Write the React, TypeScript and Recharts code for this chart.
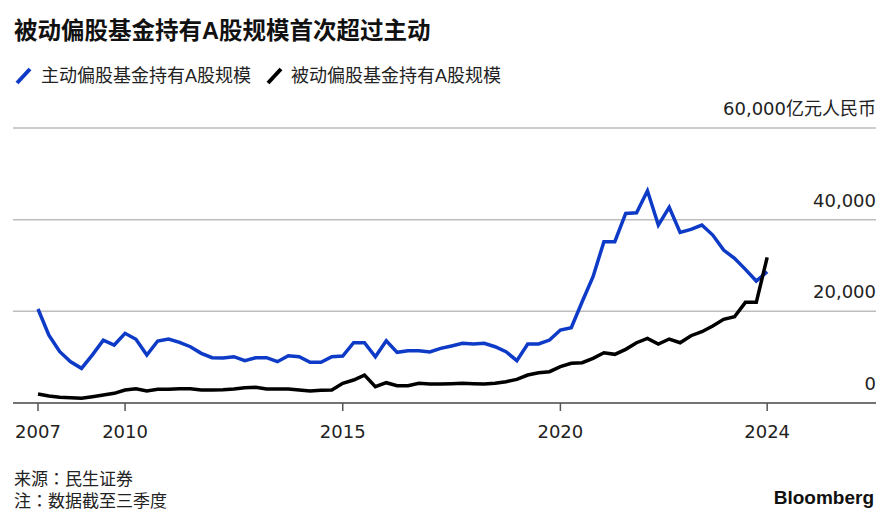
import { LineChart, Line, XAxis, YAxis, CartesianGrid } from 'recharts'

// quarterly periods, 2007Q4 .. 2024Q3
const periods: string[] = []
for (let y = 2007; y <= 2024; y++) {
  for (let q = 1; q <= 4; q++) {
    if ((y === 2007 && q < 4) || (y === 2024 && q > 3)) continue
    periods.push(`${y}Q${q}`)
  }
}

// 主动偏股基金持有A股规模 (亿元)
const activeFunds = [
  20500, 14800, 11200, 9000, 7560, 10500, 13700, 12650, 15200, 13900,
  10470, 13520, 13960, 13240, 12280, 10830, 9880, 9810, 10100, 9230,
  9880, 9880, 9010, 10320, 10100, 8870, 8870, 10100, 10250, 13150,
  13150, 10100, 13590, 11050, 11410, 11410, 11120, 11920, 12450, 13020,
  12870, 13020, 12280, 11190, 9230, 12870, 12870, 13740, 15920, 16430,
  22100, 27550, 35200, 35200, 41370, 41500, 46300, 38820, 42680, 37230,
  37880, 38820, 36640, 33370, 31560, 29160, 26610, 28640,
]

// 被动偏股基金持有A股规模 (亿元)
const passiveFunds = [
  1960, 1530, 1240, 1160, 1020, 1380, 1740, 2110, 2830, 3120,
  2620, 2980, 2980, 3120, 3120, 2830, 2830, 2900, 3050, 3340,
  3410, 3050, 3050, 3050, 2830, 2620, 2760, 2830, 4290, 5020,
  6100, 3560, 4430, 3780, 3780, 4290, 4140, 4140, 4200, 4290,
  4220, 4140, 4290, 4650, 5160, 6100, 6600, 6830, 7920, 8650,
  8790, 9750, 10970, 10620, 11710, 13150, 14110, 12870, 13960, 13150,
  14680, 15550, 16790, 18250, 18820, 21960, 21960, 31780,
]

const tickPeriods = ['2007Q4', '2009Q4', '2014Q4', '2019Q4', '2024Q3']
const tickLabels = ['2007', '2010', '2015', '2020', '2024']
const yTicks = [0, 20000, 40000, 60000]

const data = periods.map((p, i) => ({
  i,
  period: p,
  active: activeFunds[i],
  passive: passiveFunds[i],
}))

const xTickIdx = tickPeriods.map((p) => periods.indexOf(p))

const FONT = '"Liberation Sans", "Noto Sans CJK SC", sans-serif'
const NUM_FONT = '"DejaVu Sans", "Noto Sans CJK SC", sans-serif'
const BLUE = '#0d3ac6'
const W = 886
const MARGIN_RIGHT = 9
const PLOT_RIGHT = 876

function fmtY(v: number) {
  const s = v.toLocaleString('en-US')
  return v === 60000 ? `${s}亿元人民币` : s
}

function YTick(props: any) {
  const { y, payload } = props
  return (
    <text x={PLOT_RIGHT} y={y - 13} textAnchor="end" fill="#222" fontSize={18} fontFamily={NUM_FONT}>
      {fmtY(payload.value)}
    </text>
  )
}

function XTick(props: any) {
  const { x, y, payload } = props
  const k = xTickIdx.indexOf(payload.value)
  return (
    <text x={x} y={y} dy={25} textAnchor="middle" fill="#222" fontSize={18} fontFamily={NUM_FONT}>
      {tickLabels[k]}
    </text>
  )
}

function LegendMark({ color }: { color: string }) {
  return (
    <svg width={18} height={18} style={{ display: 'block' }}>
      <line x1={2} y1={16} x2={15} y2={2} stroke={color} strokeWidth={4} />
    </svg>
  )
}

export default function App() {
  return (
    <div style={{ position: 'absolute', left: 0, top: 0, width: W, height: 512, background: '#fff', fontFamily: FONT, color: '#111' }}>
      <div style={{ position: 'absolute', left: 14, top: 20, fontSize: 23.5, fontWeight: 700, lineHeight: 1, whiteSpace: 'nowrap' }}>
        被动偏股基金持有A股规模首次超过主动
      </div>

      <div style={{ position: 'absolute', left: 15, top: 66, display: 'flex', alignItems: 'center', fontSize: 18, lineHeight: '20px', whiteSpace: 'nowrap', color: '#222' }}>
        <LegendMark color={BLUE} />
        <span style={{ marginLeft: 8 }}>主动偏股基金持有A股规模</span>
        <span style={{ marginLeft: 15 }}>
          <LegendMark color="#000" />
        </span>
        <span style={{ marginLeft: 7 }}>被动偏股基金持有A股规模</span>
      </div>

      <div style={{ position: 'absolute', left: 0, top: 0 }}>
        <LineChart width={W} height={460} data={data} margin={{ top: 128, right: MARGIN_RIGHT, left: 13, bottom: 17 }}>
          <CartesianGrid vertical={false} stroke="#bdbdbd" strokeWidth={1.5} />
          <XAxis
            type="number"
            dataKey="i"
            domain={[0, 77]}
            padding={{ left: 25, right: 0 }}
            ticks={xTickIdx}
            tick={<XTick />}
            tickSize={8}
            height={40}
            axisLine={{ stroke: '#555', strokeWidth: 1.5 }}
            tickLine={{ stroke: '#555', strokeWidth: 1.5 }}
            interval={0}
            allowDecimals={false}
          />
          <YAxis
            orientation="right"
            width={1}
            domain={[0, 60000]}
            ticks={yTicks}
            tick={<YTick />}
            axisLine={false}
            tickLine={false}
            interval={0}
          />
          <Line
            type="linear"
            dataKey="active"
            stroke={BLUE}
            strokeWidth={3.5}
            dot={false}
            activeDot={false}
            isAnimationActive={false}
          />
          <Line
            type="linear"
            dataKey="passive"
            stroke="#000"
            strokeWidth={3.5}
            dot={false}
            activeDot={false}
            isAnimationActive={false}
          />
        </LineChart>
      </div>

      <div style={{ position: 'absolute', left: 14, top: 469, fontSize: 17, lineHeight: '21.5px', color: '#222', whiteSpace: 'nowrap', fontFamily: '"Liberation Sans", "Noto Sans CJK JP", sans-serif' }}>
        <div>来源：民生证券</div>
        <div>注：数据截至三季度</div>
      </div>

      <div style={{ position: 'absolute', right: 12, top: 488, fontSize: 19, fontWeight: 700, lineHeight: 1, color: '#111' }}>
        Bloomberg
      </div>
    </div>
  )
}
